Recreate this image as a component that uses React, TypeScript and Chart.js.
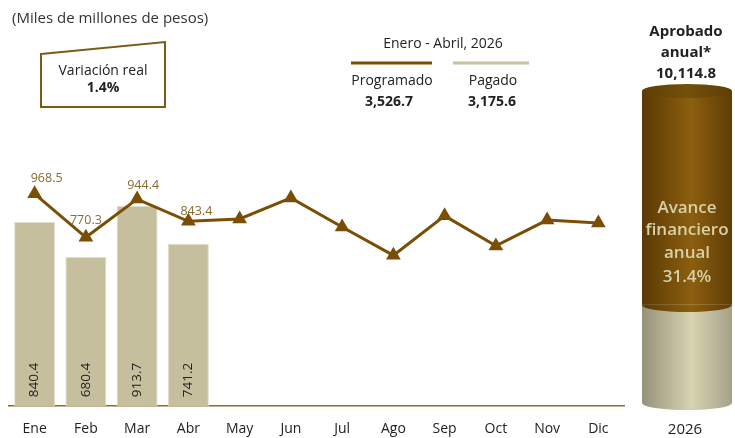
import React, { useEffect, useRef } from "react";
import { Chart, registerables } from "chart.js";
Chart.register(...registerables);

// ---------- data ----------
const months = ["Ene", "Feb", "Mar", "Abr", "May", "Jun", "Jul", "Ago", "Sep", "Oct", "Nov", "Dic"];
const programado = [968.5, 770.3, 944.4, 843.4, 854, 950, 817, 688, 868, 731, 849, 836];
const pagado = [840.4, 680.4, 913.7, 741.2];
const programadoAcumulado = 3526.7;
const pagadoAcumulado = 3175.6;
const aprobadoAnual = 10114.8;
const variacionReal = 1.4;
const avanceFinanciero = 31.4;
const periodo = "Enero - Abril, 2026";
const anio = "2026";

// ---------- style ----------
const FONT = "'Open Sans', sans-serif";
const BROWN = "#7A4E04";
const KHAKI = "#C5BF9E";
const labelDx = [12, 0, 6, 8];
const labelDy = [-15, -17, -14, -10];

const fmt = (v: number) => v.toLocaleString("en-US", { minimumFractionDigits: 1, maximumFractionDigits: 1 });

const valueLabels = {
  id: "valueLabels",
  afterDatasetsDraw(chart: any) {
    const c = chart.ctx;
    const lineMeta = chart.getDatasetMeta(0);
    const barMeta = chart.getDatasetMeta(1);
    c.save();
    c.font = `13.5px ${FONT}`;
    c.fillStyle = "#222";
    barMeta.data.forEach((el: any, i: number) => {
      c.save();
      c.translate(el.x, el.base - 9);
      c.rotate(-Math.PI / 2);
      c.textAlign = "left";
      c.textBaseline = "middle";
      c.fillText(pagado[i].toFixed(1), 0, 0);
      c.restore();
    });
    c.fillStyle = "#8A6A2E";
    c.font = `12.5px ${FONT}`;
    c.textAlign = "center";
    c.textBaseline = "middle";
    lineMeta.data.slice(0, pagado.length).forEach((el: any, i: number) => {
      c.fillText(programado[i].toFixed(1), el.x + labelDx[i], el.y + labelDy[i]);
    });
    c.restore();
  },
};

const makeGrad = (chart: any, stops: [number, string][]) => {
  const a = chart.chartArea;
  if (!a) return stops[0][1];
  const g = chart.ctx.createLinearGradient(a.left, 0, a.right, 0);
  stops.forEach(([o, col]) => g.addColorStop(o, col));
  return g;
};
const brownStops: [number, string][] = [[0, "#5A3905"], [0.55, "#8C5F0F"], [1, "#5E3C06"]];
const lightStops: [number, string][] = [[0, "#94927A"], [0.55, "#D8D3B0"], [1, "#A4A188"]];
const capStops: [number, string][] = [[0, "#5E3D06"], [0.5, "#74500C"], [1, "#5E3D06"]];

const cylinderPlugin = {
  id: "cylinder",
  afterDatasetsDraw(chart: any) {
    const c = chart.ctx;
    const light = chart.getDatasetMeta(0).data[0];
    const dark = chart.getDatasetMeta(1).data[0];
    if (!light || !dark) return;
    const cx = light.x;
    const rx = light.width / 2;
    const ry = 7;
    c.save();
    c.beginPath();
    c.ellipse(cx, light.base, rx, ry, 0, 0, Math.PI);
    c.fillStyle = makeGrad(chart, lightStops);
    c.fill();
    c.beginPath();
    c.ellipse(cx, dark.base, rx, ry, 0, 0, Math.PI);
    c.fillStyle = makeGrad(chart, brownStops);
    c.fill();
    c.beginPath();
    c.ellipse(cx, dark.y, rx, ry, 0, 0, Math.PI * 2);
    c.fillStyle = makeGrad(chart, capStops);
    c.fill();
    c.restore();
  },
};

const abs = (cx: number, cy: number, extra: React.CSSProperties = {}): React.CSSProperties => ({
  position: "absolute",
  left: cx,
  top: cy,
  transform: "translate(-50%, -50%)",
  whiteSpace: "nowrap",
  fontFamily: FONT,
  lineHeight: 1,
  ...extra,
});

export default function App() {
  const mainRef = useRef<HTMLCanvasElement>(null);
  const cylRef = useRef<HTMLCanvasElement>(null);

  useEffect(() => {
    const main = new Chart(mainRef.current as HTMLCanvasElement, {
      data: {
        labels: months,
        datasets: [
          {
            type: "line",
            label: "Programado",
            data: programado,
            borderColor: BROWN,
            backgroundColor: BROWN,
            borderWidth: 3,
            pointStyle: "triangle",
            pointRadius: 5.5,
            pointBackgroundColor: BROWN,
            pointBorderColor: BROWN,
            tension: 0,
            order: 0,
          },
          {
            type: "bar",
            label: "Pagado",
            data: pagado,
            backgroundColor: KHAKI,
            borderColor: "#E2DECB",
            borderWidth: 1,
            barPercentage: 0.8,
            categoryPercentage: 1,
            order: 1,
          },
        ],
      } as any,
      options: {
        animation: false,
        responsive: false,
        maintainAspectRatio: false,
        layout: { padding: { left: 9, right: 16, top: 165, bottom: 3 } },
        plugins: { legend: { display: false }, tooltip: { enabled: false } },
        scales: {
          x: {
            grid: { display: false },
            border: { color: "#8B6A2B", width: 1.5 },
            ticks: { color: "#222", font: { family: FONT, size: 14 }, padding: 6 },
          },
          y: { display: false, min: 0, max: 1100 },
        },
      } as any,
      plugins: [valueLabels],
    });

    const cyl = new Chart(cylRef.current as HTMLCanvasElement, {
      type: "bar",
      data: {
        labels: [anio],
        datasets: [
          {
            label: "Pagado",
            data: [pagadoAcumulado],
            backgroundColor: (ctx: any) => makeGrad(ctx.chart, lightStops),
            barPercentage: 1,
            categoryPercentage: 1,
          },
          {
            label: "Por ejercer",
            data: [aprobadoAnual - pagadoAcumulado],
            backgroundColor: (ctx: any) => makeGrad(ctx.chart, brownStops),
            barPercentage: 1,
            categoryPercentage: 1,
          },
        ],
      },
      options: {
        animation: false,
        responsive: false,
        maintainAspectRatio: false,
        layout: { padding: { left: 5, right: 5, top: 15, bottom: 15 } },
        plugins: { legend: { display: false }, tooltip: { enabled: false } },
        scales: {
          x: { display: false, stacked: true },
          y: { display: false, stacked: true, min: 0, max: aprobadoAnual },
        },
      } as any,
      plugins: [cylinderPlugin],
    });

    return () => {
      main.destroy();
      cyl.destroy();
    };
  }, []);

  return (
    <div style={{ position: "fixed", left: 0, top: 0, width: 735, height: 438, background: "#fff", overflow: "hidden", color: "#222" }}>
      <canvas ref={mainRef} width={640} height={446} style={{ position: "absolute", left: 0, top: 0 }} />
      <canvas ref={cylRef} width={100} height={342} style={{ position: "absolute", left: 637, top: 76 }} />
      <svg width={735} height={438} style={{ position: "absolute", left: 0, top: 0, pointerEvents: "none" }}>
        <polygon points="41,54 165,42 165,107 41,107" fill="#fff" stroke="#7A5A14" strokeWidth={2} />
        <line x1={351} y1={63} x2={432} y2={63} stroke={BROWN} strokeWidth={3} />
        <line x1={453} y1={63} x2={529} y2={63} stroke="#C8C2A0" strokeWidth={3} />
      </svg>
      <div style={{ position: "absolute", left: 12, top: 17, transform: "translateY(-50%)", fontFamily: FONT, fontSize: 15, lineHeight: 1, color: "#333", whiteSpace: "nowrap" }}>
        (Miles de millones de pesos)
      </div>
      <div style={abs(103, 70, { fontSize: 14 })}>Variación real</div>
      <div style={abs(103, 87, { fontSize: 14, fontWeight: 700 })}>{fmt(variacionReal)}%</div>

      <div style={abs(443, 43, { fontSize: 14 })}>{periodo}</div>
      <div style={abs(392, 80, { fontSize: 14 })}>Programado</div>
      <div style={abs(389, 101, { fontSize: 14, fontWeight: 700 })}>{fmt(programadoAcumulado)}</div>
      <div style={abs(493, 80, { fontSize: 14 })}>Pagado</div>
      <div style={abs(492, 101, { fontSize: 14, fontWeight: 700 })}>{fmt(pagadoAcumulado)}</div>

      <div style={abs(686, 30, { fontSize: 15, fontWeight: 700 })}>Aprobado</div>
      <div style={abs(686, 51, { fontSize: 15, fontWeight: 700 })}>anual*</div>
      <div style={abs(686, 72, { fontSize: 15, fontWeight: 700 })}>{fmt(aprobadoAnual)}</div>

      <div style={abs(687, 206, { fontSize: 17, fontWeight: 600, color: "#D8D0A6" })}>Avance</div>
      <div style={abs(687, 228, { fontSize: 17, fontWeight: 600, color: "#D8D0A6" })}>financiero</div>
      <div style={abs(687, 251, { fontSize: 17, fontWeight: 600, color: "#D8D0A6" })}>anual</div>
      <div style={abs(687, 275, { fontSize: 17, fontWeight: 600, color: "#D8D0A6" })}>{fmt(avanceFinanciero)}%</div>

      <div style={abs(685, 428, { fontSize: 15 })}>{anio}</div>
    </div>
  );
}
